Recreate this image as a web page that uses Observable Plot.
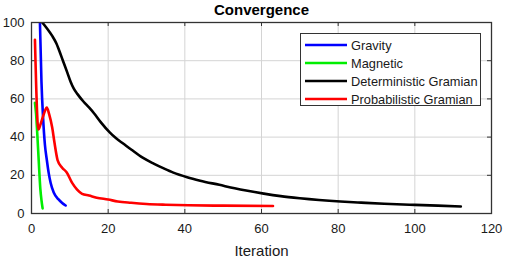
<!DOCTYPE html>
<html>
<head>
<meta charset="utf-8">
<script src="https://cdn.jsdelivr.net/npm/d3@7"></script>
<script src="https://cdn.jsdelivr.net/npm/@observablehq/plot@0.6"></script>
<style>
  html, body { margin: 0; padding: 0; background: #fff; }
  #wrap { position: relative; width: 505px; height: 258px; font-family: "Liberation Sans", Arial, sans-serif; }
  #legend { position: absolute; left: 300px; top: 33px; width: 181px; height: 73px; box-sizing: border-box;
            border: 1.3px solid #333; background: #fff; padding-top: 2px; }
  .row { height: 18px; display: flex; align-items: center; font-size: 12.8px; color: #1a1a1a; }
  .row svg { margin-left: 4px; margin-right: 4px; }
</style>
</head>
<body>
<div id="wrap"></div>
<script>
const title = "Convergence";
const xLabel = "Iteration";
const seriesNames = ["Gravity", "Magnetic", "Deterministic Gramian", "Probabilistic Gramian"];
const seriesColors = ["#0000ff", "#00ee00", "#000000", "#ff0000"];
const xTicks = [0, 20, 40, 60, 80, 100, 120];
const yTicks = [0, 20, 40, 60, 80, 100];

const gravity = [[2.2,100],[2.6,69],[3,51],[3.5,36],[4,28],[4.5,21],[5,16],[5.8,11],[7,7.5],[8,5.5],[8.9,4.2]];
const magnetic = [[0.9,58],[1.2,52],[1.5,42],[1.9,27],[2.3,13],[2.6,7],[2.9,2.7]];
const deterministic = [[2.8,100],[4,97],[5.4,93],[6.5,89],[7.1,86],[8.2,80],[9.3,74],[10.2,69],[11,65.5],[12,62.5],[13.6,58.5],[15,55.5],[16.3,52.5],[18,48],[20.4,42.5],[22,39.5],[24,36.5],[26,33.5],[29,29.2],[32,26],[34.5,23.6],[37,21.4],[40.6,19],[44,17.2],[49,15],[53,13.2],[56,12],[60.6,10.4],[65,9.1],[70,8],[75,7.1],[80.6,6.3],[86,5.7],[92,5.1],[100,4.5],[106,4.1],[112,3.7]];
const probabilistic = [[0.9,91],[1.8,44],[2.4,47],[3.2,52],[4,55.5],[4.6,52],[5.4,45],[6,37],[6.8,28],[8,24],[9.2,21.5],[10.6,16],[11.9,12.5],[13.2,10.3],[15,9.4],[17,8.3],[20,7.3],[22.5,6.3],[26,5.6],[30,5],[35,4.6],[41,4.3],[50,4.1],[63,3.9]];

const seriesData = [gravity, magnetic, deterministic, probabilistic];
const rows = seriesData.flatMap((arr, i) => arr.map(([x, y]) => ({x, y, s: seriesNames[i]})));

const W = 505, H = 258, mL = 31, mR = 14, mT = 22, mB = 45;
const fh = H - mT - mB, fw = W - mL - mR;

const chart = Plot.plot({
  width: W, height: H,
  marginLeft: mL, marginRight: mR, marginTop: mT, marginBottom: mB,
  style: {fontFamily: '"Liberation Sans", Arial, sans-serif', fontSize: "13px", color: "#1a1a1a", background: "#fff"},
  x: {domain: [0, 120], ticks: xTicks},
  y: {domain: [0, 100], ticks: yTicks},
  color: {domain: seriesNames, range: seriesColors},
  marks: [
    Plot.gridX(xTicks.slice(1, -1), {stroke: "#d4d4d4", strokeOpacity: 1}),
    Plot.gridY(yTicks.slice(1, -1), {stroke: "#d4d4d4", strokeOpacity: 1}),
    Plot.tickX(xTicks, {x: d => d, insetTop: fh - 4, stroke: "#333"}),
    Plot.tickX(xTicks, {x: d => d, insetBottom: fh - 4, stroke: "#333"}),
    Plot.tickY(yTicks, {y: d => d, insetRight: fw - 4, stroke: "#333"}),
    Plot.tickY(yTicks, {y: d => d, insetLeft: fw - 4, stroke: "#333"}),
    Plot.line(rows, {x: "x", y: "y", z: "s", stroke: "s", strokeWidth: 2.6, curve: "monotone-x", clip: true}),
    Plot.frame({stroke: "#333", strokeWidth: 1.3}),
    Plot.axisX({ticks: xTicks, tickSize: 0, tickPadding: 10, label: null, fontSize: 13}),
    Plot.axisY({ticks: yTicks, tickSize: 0, tickPadding: 7, label: null, fontSize: 13}),
    Plot.text([xLabel], {frameAnchor: "bottom", dy: 42, lineAnchor: "bottom", fontSize: 15, fill: "#1a1a1a"}),
    Plot.text([title], {frameAnchor: "top", dy: -8, lineAnchor: "bottom", fontSize: 15, fontWeight: "bold", fill: "#000"})
  ]
});

const wrap = document.getElementById("wrap");
wrap.appendChild(chart);

const legend = document.createElement("div");
legend.id = "legend";
seriesNames.forEach((name, i) => {
  const row = document.createElement("div");
  row.className = "row";
  row.innerHTML = `<svg width="42" height="4"><line x1="0" y1="2" x2="42" y2="2" stroke="${seriesColors[i]}" stroke-width="2.6"/></svg><span>${name}</span>`;
  legend.appendChild(row);
});
wrap.appendChild(legend);
</script>
</body>
</html>
